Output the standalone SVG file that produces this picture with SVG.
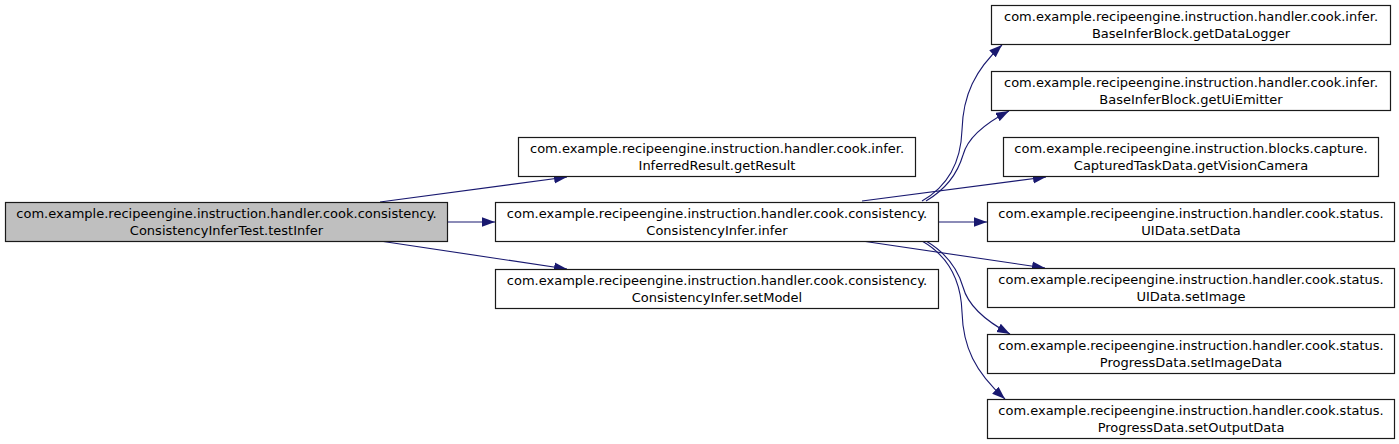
<svg xmlns="http://www.w3.org/2000/svg" width="1399" height="444" viewBox="0 0 1399 444">
<style>
.n rect{fill:#ffffff;stroke:#1a1a1a;stroke-width:1.2}
.n.root rect{fill:#bfbfbf}
.n text{font-family:"DejaVu Sans",sans-serif;font-size:13px;text-anchor:middle;fill:#000000}
.e path{fill:none;stroke:#191970;stroke-width:1.1}
</style>
<defs>
<marker id="ah" markerUnits="userSpaceOnUse" markerWidth="13" markerHeight="10" refX="13" refY="4.75" orient="auto">
<path d="M0,0 L13,4.75 L0,9.5 z" fill="#191970" stroke="none"/>
</marker>
</defs>
<g id="edges" class="e">
<path d="M380,202 L567,177" marker-end="url(#ah)"/>
<path d="M447,222 L495,222" marker-end="url(#ah)"/>
<path d="M380,241 L567,269" marker-end="url(#ah)"/>
<path d="M922,201 C950,185 961,160 962,130 C963,95 975,70 1002,45" marker-end="url(#ah)"/>
<path d="M926,201 C948,188 958,172 963,155 C967,140 980,126 1009,111" marker-end="url(#ah)"/>
<path d="M862,201 L1046,177" marker-end="url(#ah)"/>
<path d="M938,222 L987,222" marker-end="url(#ah)"/>
<path d="M862,241 L1045,268" marker-end="url(#ah)"/>
<path d="M926,241 C948,254 958,270 963,287 C967,302 980,318 1010,334" marker-end="url(#ah)"/>
<path d="M922,241 C950,257 961,282 962,312 C963,347 975,372 1005,399" marker-end="url(#ah)"/>
</g>
<g id="node-root" class="n root">
<rect x="5.5" y="202.5" width="442" height="39"/>
<text x="226.5" y="218">com.example.recipeengine.instruction.handler.cook.consistency.</text>
<text x="226.5" y="235">ConsistencyInferTest.testInfer</text>
</g>
<g id="node-getResult" class="n">
<rect x="518.5" y="137.5" width="397" height="39"/>
<text x="717" y="153">com.example.recipeengine.instruction.handler.cook.infer.</text>
<text x="717" y="170">InferredResult.getResult</text>
</g>
<g id="node-infer" class="n">
<rect x="495.5" y="202.5" width="443" height="39"/>
<text x="717" y="218">com.example.recipeengine.instruction.handler.cook.consistency.</text>
<text x="717" y="235">ConsistencyInfer.infer</text>
</g>
<g id="node-setModel" class="n">
<rect x="495.5" y="269.5" width="443" height="39"/>
<text x="717" y="285">com.example.recipeengine.instruction.handler.cook.consistency.</text>
<text x="717" y="302">ConsistencyInfer.setModel</text>
</g>
<g id="node-getDataLogger" class="n">
<rect x="991.5" y="5.5" width="399" height="39"/>
<text x="1191" y="21">com.example.recipeengine.instruction.handler.cook.infer.</text>
<text x="1191" y="38">BaseInferBlock.getDataLogger</text>
</g>
<g id="node-getUiEmitter" class="n">
<rect x="991.5" y="71.5" width="399" height="39"/>
<text x="1191" y="87">com.example.recipeengine.instruction.handler.cook.infer.</text>
<text x="1191" y="104">BaseInferBlock.getUiEmitter</text>
</g>
<g id="node-getVisionCamera" class="n">
<rect x="1003.5" y="137.5" width="375" height="39"/>
<text x="1191" y="153">com.example.recipeengine.instruction.blocks.capture.</text>
<text x="1191" y="170">CapturedTaskData.getVisionCamera</text>
</g>
<g id="node-setData" class="n">
<rect x="987.5" y="202.5" width="407" height="39"/>
<text x="1191" y="218">com.example.recipeengine.instruction.handler.cook.status.</text>
<text x="1191" y="235">UIData.setData</text>
</g>
<g id="node-setImage" class="n">
<rect x="987.5" y="268.5" width="407" height="39"/>
<text x="1191" y="284">com.example.recipeengine.instruction.handler.cook.status.</text>
<text x="1191" y="301">UIData.setImage</text>
</g>
<g id="node-setImageData" class="n">
<rect x="987.5" y="334.5" width="407" height="39"/>
<text x="1191" y="350">com.example.recipeengine.instruction.handler.cook.status.</text>
<text x="1191" y="367">ProgressData.setImageData</text>
</g>
<g id="node-setOutputData" class="n">
<rect x="987.5" y="399.5" width="407" height="39"/>
<text x="1191" y="415">com.example.recipeengine.instruction.handler.cook.status.</text>
<text x="1191" y="432">ProgressData.setOutputData</text>
</g>
</svg>
